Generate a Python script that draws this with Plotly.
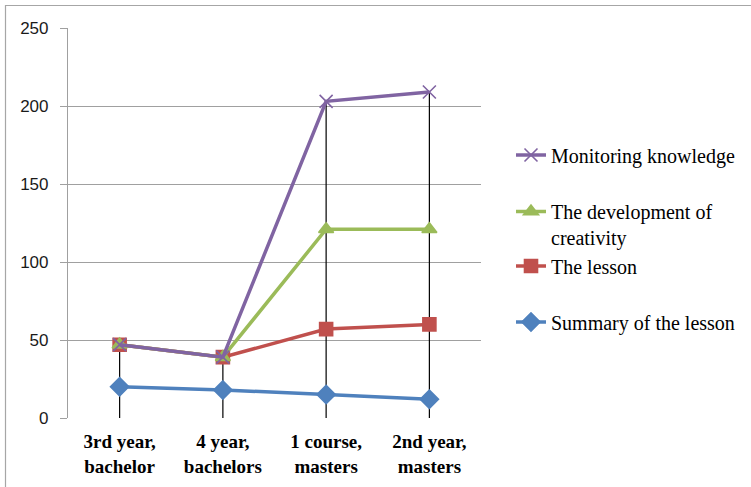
import plotly.graph_objects as go

# Study stages along the horizontal axis
categories = ["3rd year,<br>bachelor", "4 year,<br>bachelors",
              "1 course,<br>masters", "2nd year,<br>masters"]

# Series values per stage
monitoring = [47, 39, 203, 209]
creativity = [47, 39, 121, 121]
lesson = [47, 39, 57, 60]
summary = [20, 18, 15, 12]

y_ticks = [0, 50, 100, 150, 200, 250]

W, H = 751, 487
L, R, T, B = 68, 270, 28, 69
PW, PH = W - L - R, H - T - B


def px_x(p):
    return (p - L) / PW


def px_y(p):
    return (H - B - p) / PH


fig = go.Figure()

# Drop lines from the highest point of each stage down to zero
tops = [max(v) for v in zip(monitoring, creativity, lesson, summary)]
dx, dy = [], []
for c, t in zip(categories, tops):
    dx += [c, c, None]
    dy += [0, t, None]
fig.add_trace(go.Scatter(x=dx, y=dy, mode="lines", showlegend=False,
                         line=dict(color="#000000", width=1.2),
                         hoverinfo="skip"))

series = [
    ("Summary of the lesson", summary, "#4F81BD", "diamond", 14, "legend4"),
    ("The lesson", lesson, "#C0504D", "square", 13, "legend3"),
    ("The development of<br>creativity", creativity, "#9BBB59", "triangle-up", 13, "legend2"),
    ("Monitoring knowledge", monitoring, "#8064A2", "x-thin-open", 13, "legend"),
]
for name, vals, color, sym, size, lg in series:
    fig.add_trace(go.Scatter(
        x=categories, y=vals, name=name, mode="lines+markers",
        line=dict(color=color, width=3.5),
        marker=dict(symbol=sym, size=size, color=color,
                    line=dict(color=color, width=1.6)),
        legend=lg,
    ))

legend_font = dict(family="Liberation Serif", size=20, color="#000000")
legend_common = dict(font=legend_font, bgcolor="rgba(0,0,0,0)",
                     borderwidth=0, xanchor="left", x=px_x(511))

# Outer frame
fig.add_shape(type="rect", xref="paper", yref="paper",
              x0=px_x(5.5), x1=px_x(800), y0=px_y(540), y1=px_y(5.5),
              line=dict(color="#A6A6A6", width=1.2), fillcolor="rgba(0,0,0,0)",
              layer="below")

fig.update_layout(
    width=W, height=H,
    margin=dict(l=L, r=R, t=T, b=B, autoexpand=False),
    paper_bgcolor="white", plot_bgcolor="white",
    xaxis=dict(type="category", range=[-0.5, 3.5], showgrid=False,
               showline=False, ticks="", zeroline=False, automargin=False,
               tickfont=dict(family="Liberation Serif", size=19,
                             color="#000000", weight="bold"),
               ticklabelstandoff=10),
    yaxis=dict(range=[0, 250], tickvals=y_ticks, showgrid=True,
               gridcolor="#A0A0A0", gridwidth=1.2, zeroline=False,
               showline=True, linecolor="#A0A0A0", linewidth=1.2,
               automargin=False,
               ticks="outside", ticklen=7, tickcolor="#A0A0A0", tickwidth=1.2,
               tickfont=dict(family="Liberation Sans", size=17, color="#1A1A1A"),
               ticklabelstandoff=8),
    legend=dict(**legend_common, y=px_y(155), yanchor="middle"),
    legend2=dict(**legend_common, y=px_y(192), yanchor="top", valign="top"),
    legend3=dict(**legend_common, y=px_y(266), yanchor="middle"),
    legend4=dict(**legend_common, y=px_y(322), yanchor="middle"),
)

fig.write_html("out.html")
